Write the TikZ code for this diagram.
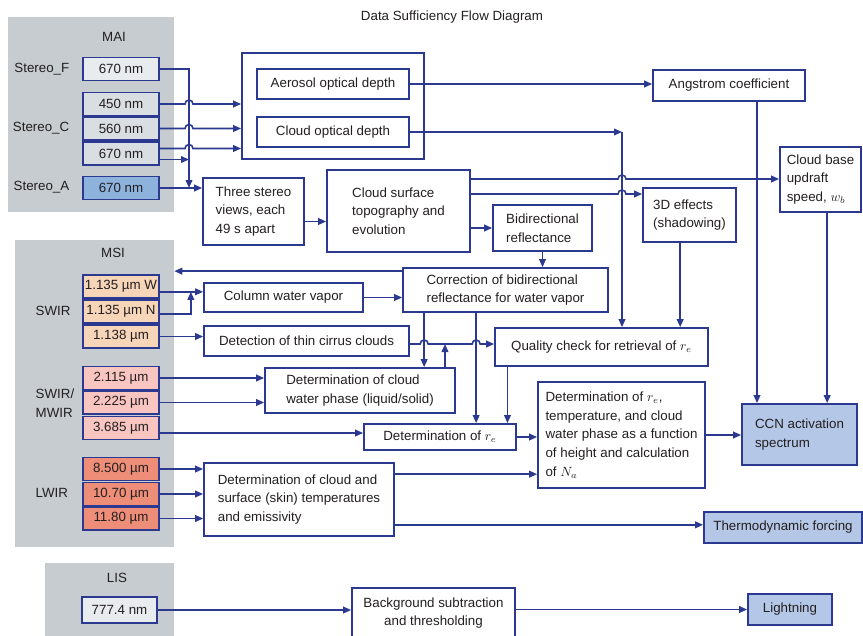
\documentclass[tikz,border=0pt]{standalone}
\usepackage{fontspec}
\setmainfont{Liberation Sans}
\usetikzlibrary{arrows.meta,calc}

\definecolor{navy}{RGB}{43,57,144}
\definecolor{panelgrey}{RGB}{198,204,208}
\definecolor{maigrey}{RGB}{217,222,226}
\definecolor{mailight}{RGB}{232,236,239}
\definecolor{maiblue}{RGB}{141,179,221}
\definecolor{swirpeach}{RGB}{247,213,185}
\definecolor{mwirpink}{RGB}{248,197,193}
\definecolor{lwirsalmon}{RGB}{238,142,121}
\definecolor{outblue}{RGB}{180,199,231}
\definecolor{inkgrey}{RGB}{35,31,32}

\begin{document}
\begin{tikzpicture}[x=0.75pt,y=-0.75pt,
    font=\fontsize{10}{14}\selectfont, text=inkgrey,
    wh/.style 2 args={minimum width={#1*0.75pt},minimum height={#2*0.75pt}},
    panel/.style={fill=panelgrey,inner sep=0pt},
    band/.style={draw=navy,line width=1.3pt,inner sep=0pt,wh={76}{23}},
    box/.style={draw=navy,line width=1.3pt,fill=white,inner sep=0pt,align=left},
    result/.style={box,fill=outblue},
    arr/.style={draw=navy,line width=1.2pt,-{Triangle[length=6pt,width=5pt]}}]
    \useasboundingbox (0,0) rectangle (863,635);
    \clip (0,0) rectangle (863,635);

    \node (title) at (452,17) {Data Sufficiency Flow Diagram};

    \node[panel,wh={166}{195}] (mai) at (91,114.5) {};
    \node[panel,wh={159}{307}] (msi) at (94.5,393.5) {};
    \node[panel,wh={129}{80}] (lis) at (109.5,603) {};
    \node (maiT) at (114,37) {MAI};
    \node (msiT) at (113,253) {MSI};
    \node (lisT) at (117,578) {LIS};

    \node[anchor=east] (stF) at (74,69) {Stereo\_F};
    \node[anchor=east] (stC) at (74,128) {Stereo\_C};
    \node[anchor=east] (stA) at (74,187) {Stereo\_A};
    \node[anchor=west] (swir) at (31,311) {SWIR};
    \node[anchor=west,align=left] (mwir) at (31,403) {SWIR/\\MWIR};
    \node[anchor=west] (lwir) at (31,493) {LWIR};

    \node[band,fill=mailight] (mF) at (121,69) {670 nm};
    \node[band,fill=maigrey] (m450) at (121,104) {450 nm};
    \node[band,fill=maigrey] (m560) at (121,128.5) {560 nm};
    \node[band,fill=maigrey] (m670) at (121,153.5) {670 nm};
    \node[band,fill=maiblue] (mA) at (121,188) {670 nm};

    \node[band,fill=swirpeach] (sW) at (121,286.5) {1.135 µm W};
    \node[band,fill=swirpeach] (sN) at (121,311.5) {1.135 µm N};
    \node[band,fill=swirpeach] (s1138) at (121,336.5) {1.138 µm};
    \node[band,fill=mwirpink] (s2115) at (121,378) {2.115 µm};
    \node[band,fill=mwirpink] (s2225) at (121,402.5) {2.225 µm};
    \node[band,fill=mwirpink] (s3685) at (121,428) {3.685 µm};
    \node[band,fill=lwirsalmon] (l85) at (121,469) {8.500 µm};
    \node[band,fill=lwirsalmon] (l107) at (121,494) {10.70 µm};
    \node[band,fill=lwirsalmon] (l118) at (121,518.5) {11.80 µm};
    \node[band,fill=mailight,wh={75}{26}] (lis777) at (119.5,610) {777.4 nm};

    \node[box,wh={182}{106}] (optics) at (333,106) {};
    \node[box,wh={152}{30}] (aod) at (333,84) {Aerosol optical depth};
    \node[box,wh={152}{30}] (cod) at (333,132) {Cloud optical depth};
    \node[box,wh={152}{31}] (angstrom) at (729,85.5) {Angstrom coefficient};
    \node[box,wh={101}{67}] (stereo3) at (253.5,211.5) {Three stereo\\views, each\\49 s apart};
    \node[box,wh={143}{82}] (topo) at (398.5,211) {Cloud surface\\topography and\\evolution};
    \node[box,wh={99}{46}] (bdr) at (542.5,228) {Bidirectional\\reflectance};
    \node[box,wh={93}{54}] (fx3d) at (689.5,215) {3D effects\\(shadowing)};
    \node[box,wh={81}{65}] (updraft) at (820.5,179.5) {Cloud base\\updraft\\speed, $w_b$};
    \node[box,wh={205}{44}] (correction) at (505.5,290) {Correction of bidirectional\\reflectance for water vapor};
    \node[box,wh={159}{29}] (cwv) at (283.5,297.5) {Column water vapor};
    \node[box,wh={205}{30}] (cirrus) at (306.5,341) {Detection of thin cirrus clouds};
    \node[box,wh={213}{38}] (quality) at (601.5,347) {Quality check for retrieval of $r_e$};
    \node[box,wh={190}{45}] (phase) at (360,390.5) {Determination of cloud\\water phase (liquid/solid)};
    \node[box,wh={152}{26}] (detre) at (440,437) {Determination of $r_e$};
    \node[box,wh={167}{106}] (detall) at (621.5,435) {Determination of $r_e$,\\temperature, and cloud\\water phase as a function\\of height and calculation\\of $N_a$};
    \node[result,wh={115}{61}] (ccn) at (799.5,434.5) {CCN activation\\spectrum};
    \node[box,wh={190}{73}] (surf) at (299,499.5) {Determination of cloud and\\surface (skin) temperatures\\and emissivity};
    \node[result,wh={158}{31}] (thermo) at (783,527.5) {Thermodynamic forcing};
    \node[box,align=center,wh={163}{50}] (bgsub) at (433.5,613) {Background subtraction\\and thresholding};
    \node[result,wh={84}{31}] (lightning) at (790,609.5) {Lightning};

    % MAI
    \coordinate (jA) at (189,188);
    \draw[arr] (mF.east) -| (jA);
    \draw[arr] (mA.east) -- (mA.east -| stereo3.west);
    \draw[arr] ([yshift=-4.5pt]m670.east) -- ([yshift=-4.5pt]m670.east -| jA);
    \foreach \b/\s in {m450/0pt,m560/0pt,m670/3.75pt}
        \draw[arr] ([yshift=\s]\b.east) -- ($([yshift=\s]\b.east -| jA)+(-4,0)$)
            arc[start angle=180,end angle=0,radius=3pt] -- ([yshift=\s]\b.east -| optics.west);
    \draw[arr] (aod.east) -- (aod.east -| angstrom.west);
    \coordinate (cq) at (622,132);
    \draw[arr] (cod.east) -- (cq);
    \draw[arr] (cq) -- (cq |- quality.north);
    \draw[arr] ([yshift=-7.5pt]stereo3.east) -- ([yshift=-7.5pt]stereo3.east -| topo.west);
    \coordinate (t1) at ([yshift=24pt]topo.east);
    \coordinate (t2) at ([yshift=12.75pt]topo.east);
    \draw[arr] (t1) -- ($(t1 -| cq)+(-4,0)$) arc[start angle=180,end angle=0,radius=3pt] -- (t1 -| updraft.west);
    \draw[arr] (t2) -- ($(t2 -| cq)+(-4,0)$) arc[start angle=180,end angle=0,radius=3pt] -- (t2 -| fx3d.west);
    \draw[arr] (bdr.west -| topo.east) -- (bdr.west);
    \draw[arr] (bdr.south) -- (bdr.south |- correction.north);
    \draw[arr] ([xshift=21pt]angstrom.south) -- ([xshift=21pt]angstrom.south |- ccn.north);
    \draw[arr] ([xshift=5pt]updraft.south) -- ([xshift=5pt]updraft.south |- ccn.north);
    \draw[arr] ([xshift=-7pt]fx3d.south) -- ([xshift=-7pt]fx3d.south |- quality.north);

    % MSI
    \draw[arr] ([yshift=-3pt]correction.north west) -- ([yshift=-3pt]correction.north west -| msi.east);
    \coordinate (w1) at ([yshift=-4pt]sW.east);
    \draw[arr] (w1) -- (w1 -| cwv.west);
    \draw[arr] ([yshift=-2pt]sN.east) -| ($(w1)+(31,0)$);
    \draw[arr] (s1138.east) -- (s1138.east -| cirrus.west);
    \draw[arr] (cwv.east) -- (cwv.east -| correction.west);
    \coordinate (v1) at ($(correction.south west)+(22,0)$);
    \coordinate (v2) at ($(correction.south west)+(74,0)$);
    \coordinate (c1) at ([yshift=-2.25pt]cirrus.east);
    \draw[arr] (c1) -- ($(c1 -| v1)+(-4,0)$) arc[start angle=180,end angle=0,radius=3pt]
        -- ($(c1 -| v2)+(-4,0)$) arc[start angle=180,end angle=0,radius=3pt] -- (c1 -| quality.west);
    \draw[arr] (v1) -- (v1 |- phase.north);
    \draw[arr] (v2) -- (v2 |- detre.north);
    \coordinate (p1) at ([xshift=63.75pt]phase.north);
    \draw[arr] (p1) -- (p1 |- c1);
    \coordinate (q1) at ([xshift=10pt]quality.south west);
    \draw[arr] (q1) -- (q1 |- detre.north);
    \draw[arr] (s2115.east) -- (s2115.east -| phase.west);
    \draw[arr] (s2225.east) -- (s2225.east -| phase.west);
    \draw[arr] ([yshift=-3.75pt]s3685.east) -- ([yshift=-3.75pt]s3685.east -| detre.west);
    \draw[arr] (detre.east) -- (detre.east -| detall.west);
    \draw[arr] (detall.east) -- (detall.east -| ccn.west);
    \foreach \b in {l85,l107,l118}
        \draw[arr] (\b.east) -- (\b.east -| surf.west);
    \draw[arr] ([yshift=19pt]surf.east) -- ([yshift=19pt]surf.east -| detall.west);
    \draw[arr] ([yshift=-19pt]surf.east) -- ([yshift=-19pt]surf.east -| thermo.west);

    % LIS
    \draw[arr] (lis777.east) -- (lis777.east -| bgsub.west);
    \draw[arr] (bgsub.east |- lightning.west) -- (lightning.west);
\end{tikzpicture}
\end{document}
